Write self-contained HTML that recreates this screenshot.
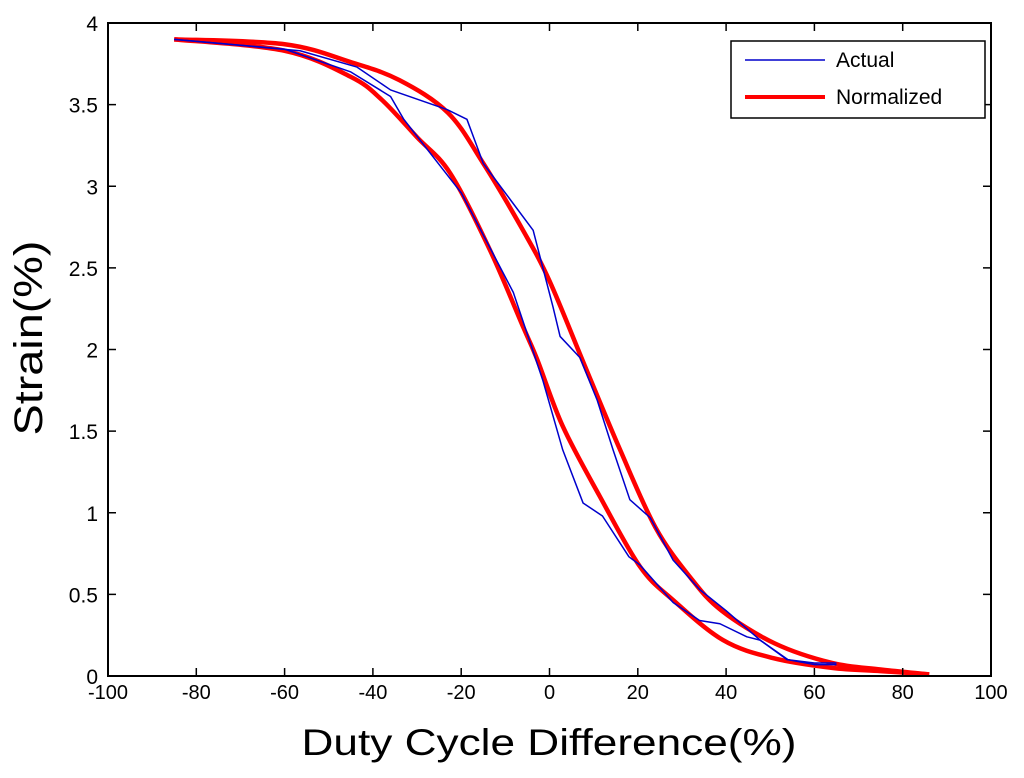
<!DOCTYPE html>
<html><head><meta charset="utf-8"><style>
body{margin:0;background:#fff}
svg text{font-family:"Liberation Sans",sans-serif;fill:#000}
</style></head><body>
<svg id="chart" width="1024" height="773" xmlns="http://www.w3.org/2000/svg">
<rect x="0" y="0" width="1024" height="773" fill="#fff"/>
<g id="marks"></g>
<rect x="108" y="23" width="883" height="653" fill="none" stroke="#000" stroke-width="2"/>
<g id="ticks"></g>
<text x="549" y="755" font-size="37" text-anchor="middle" textLength="495" lengthAdjust="spacingAndGlyphs">Duty Cycle Difference(%)</text>
<text transform="translate(42,338) rotate(-90)" font-size="40" text-anchor="middle" textLength="195" lengthAdjust="spacingAndGlyphs">Strain(%)</text>
<g>
<rect x="731" y="41" width="254" height="77" fill="#fff" stroke="#000" stroke-width="1.5"/>
<line x1="745" y1="60" x2="825" y2="60" stroke="#0000cc" stroke-width="1.5"/>
<text x="836" y="67" font-size="21">Actual</text>
<line x1="745" y1="97" x2="825" y2="97" stroke="#ff0000" stroke-width="4"/>
<text x="836" y="104" font-size="21">Normalized</text>
</g>
</svg>
<script>
const xTicks=[-100,-80,-60,-40,-20,0,20,40,60,80,100];
const yTicks=[0,0.5,1,1.5,2,2.5,3,3.5,4];
const yTickLabels=["0","0.5","1","1.5","2","2.5","3","3.5","4"];
const normUpX=[-85,-60,-45,-34,-23,-15,-6,0,8,16,24,32,39,51,64,75,86];
const normUpY=[3.9,3.87,3.76,3.65,3.45,3.14,2.73,2.42,1.9,1.385,0.91,0.6,0.4,0.2,0.08,0.04,0.01];
const normLowX=[-85,-60,-45,-38,-30,-22.5,-13.5,-6,-2.8,3,11.4,20.5,28,39.3,50.6,64,75,86];
const normLowY=[3.9,3.83,3.67,3.53,3.3,3.08,2.61,2.14,1.94,1.53,1.1,0.67,0.465,0.22,0.11,0.05,0.03,0.01];
const actUpX=[-85,-56.5,-43.6,-36,-23.2,-18.7,-15,-3.7,-1.5,0.8,2.4,6.9,10.8,14.4,18.2,22.8,28,34,40,47.7,54,60,65];
const actUpY=[3.9,3.83,3.73,3.59,3.47,3.41,3.14,2.73,2.5,2.26,2.08,1.95,1.69,1.385,1.08,0.97,0.71,0.53,0.4,0.22,0.1,0.07,0.07];
const actLowX=[-85,-60,-45,-36,-33,-20,-8.2,-1.5,3,7.6,12,18,20.5,28,34,38.6,44.7,47.7,53.8,60,65];
const actLowY=[3.9,3.84,3.7,3.55,3.41,2.96,2.35,1.81,1.385,1.06,0.98,0.73,0.68,0.45,0.34,0.32,0.24,0.22,0.1,0.08,0.08];
const L=108,R=991,T=23,B=676;
const sx=v=>L+(v+100)/200*(R-L);
const sy=v=>B-v/4*(B-T);
const NS="http://www.w3.org/2000/svg";
const marks=document.getElementById('marks'),ticks=document.getElementById('ticks');
function smoothPath(xs,ys){
  const p=xs.map((x,i)=>[sx(x),sy(ys[i])]);
  let d='M'+p[0][0]+','+p[0][1];
  for(let i=0;i<p.length-1;i++){
    const p0=p[i-1]||p[i],p1=p[i],p2=p[i+1],p3=p[i+2]||p2;
    const c1=[p1[0]+(p2[0]-p0[0])/6,p1[1]+(p2[1]-p0[1])/6];
    const c2=[p2[0]-(p3[0]-p1[0])/6,p2[1]-(p3[1]-p1[1])/6];
    d+=' C'+c1+' '+c2+' '+p2;
  }
  return d;
}
function curve(xs,ys,color,w,name,smooth){
  const p=document.createElementNS(NS,'path');
  p.setAttribute('d',smooth?smoothPath(xs,ys):'M'+xs.map((x,i)=>sx(x)+','+sy(ys[i])).join(' L'));
  p.setAttribute('fill','none');p.setAttribute('stroke',color);p.setAttribute('stroke-width',w);
  p.setAttribute('stroke-linejoin','round');
  
  
  marks.appendChild(p);
}
curve(normUpX,normUpY,'#ff0000',4.5,'normalized-upper-curve',true);
curve(normLowX,normLowY,'#ff0000',4.5,'normalized-lower-curve',true);
curve(actUpX,actUpY,'#0000cc',1.5,'actual-upper-curve',false);
curve(actLowX,actLowY,'#0000cc',1.5,'actual-lower-curve',false);
xTicks.forEach(v=>{
  const x=sx(v);
  [[B,B-8],[T,T+8]].forEach(([a,b])=>{const l=document.createElementNS(NS,'line');
  l.setAttribute('x1',x);l.setAttribute('x2',x);l.setAttribute('y1',a);l.setAttribute('y2',b);l.setAttribute('stroke','#000');l.setAttribute('stroke-width','1.5');ticks.appendChild(l);});
  const t=document.createElementNS(NS,'text');t.setAttribute('x',x);t.setAttribute('y',B+23);
  t.setAttribute('font-size','20');t.setAttribute('text-anchor','middle');t.textContent=v;
  
  
  ticks.appendChild(t);
});
yTicks.forEach((v,i)=>{
  const y=sy(v);
  [[L,L+8],[R,R-8]].forEach(([a,b])=>{const l=document.createElementNS(NS,'line');
  l.setAttribute('x1',a);l.setAttribute('x2',b);l.setAttribute('y1',y);l.setAttribute('y2',y);l.setAttribute('stroke','#000');l.setAttribute('stroke-width','1.5');ticks.appendChild(l);});
  const t=document.createElementNS(NS,'text');t.setAttribute('x',L-10);t.setAttribute('y',y+8);
  t.setAttribute('font-size','21');t.setAttribute('text-anchor','end');t.textContent=yTickLabels[i];
  
  
  ticks.appendChild(t);
});
</script>
</body></html>
